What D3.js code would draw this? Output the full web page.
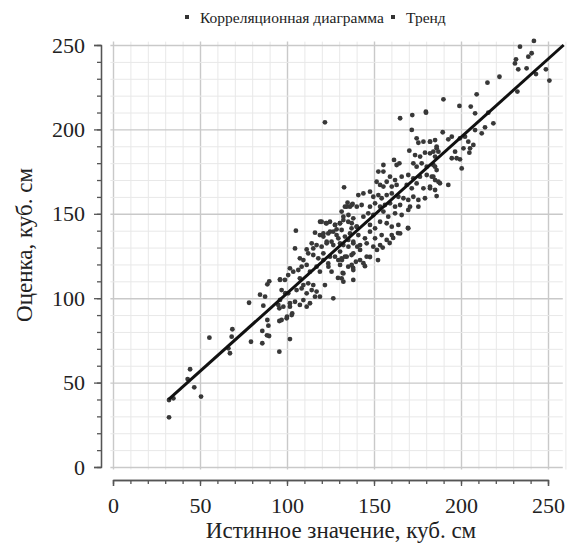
<!DOCTYPE html>
<html>
<head>
<meta charset="utf-8">
<script src="https://cdn.jsdelivr.net/npm/d3@7"></script>
<style>
  html, body { margin: 0; padding: 0; background: #fff; }
  svg { display: block; }
</style>
</head>
<body>
<div id="chart"></div>
<script>
// значения: истинное значение / оценка, куб. см
const trueValues = [
  32.2, 34.7, 32.2, 44.3, 42.9, 46.7, 50.6, 55.4, 68.6, 68.2, 67.2, 66.3, 78.2, 79.3, 84.5, 87.4,
  86.4, 88.7, 89.3, 85.8, 89.7, 85.8, 88.7, 89.8, 96.0, 95.6, 95.6, 95.6,
  101.7, 88.5, 100.0, 103.0, 101.7, 96.0, 99.0,
  132.0, 129.3, 138.0, 142.0, 131.6, 144.8, 169.5, 163.8, 159.0, 155.0, 151.7, 147.7, 152.3, 161.0,
  137.7, 136.2, 133.3, 134.8, 119.9, 122.4, 124.7, 127.6, 130.4, 132.4, 135.2, 105.1, 116.1, 118.9,
  120.9, 123.7, 126.6, 128.5, 131.4, 137.1, 140.0, 104.6, 111.3, 114.2, 115.1, 117.0, 119.9, 122.8,
  125.6, 129.5, 132.4, 135.2, 138.1, 140.4, 107.4, 109.4, 112.2, 115.1, 118.0, 120.9, 123.7, 127.6,
  129.5, 131.4, 134.3, 137.1, 139.6, 101.7, 103.6, 106.5, 108.4, 111.3, 113.2, 117.0, 118.9, 125.6,
  132.4, 135.2, 138.1, 96.0, 98.8, 100.7, 107.4, 109.4, 112.2, 115.1, 121.8, 131.4, 132.4, 138.1,
  96.9, 100.7, 105.5, 108.4, 111.3, 114.2, 117.0, 118.9, 126.6, 95.0, 97.9, 101.7, 104.6, 107.4,
  109.4, 111.3, 113.2, 116.1, 96.9, 99.8, 102.7,
  121.8, 165.0, 172.0, 179.9, 171.7, 174.5, 175.5, 178.4, 182.2, 185.1, 186.0, 170.3, 173.6, 176.5,
  179.3, 182.2, 185.1, 187.0, 161.5, 164.6, 163.0, 172.6, 174.5, 177.4, 180.3, 184.1, 155.4, 152.5,
  155.4, 159.2, 162.1, 165.9, 169.7, 172.6, 176.4, 180.3, 184.1, 187.0, 151.5, 153.5, 155.4, 157.3,
  160.2, 163.0, 132.8, 168.8, 171.7, 174.5, 178.4, 182.2, 185.1, 141.0, 143.9, 147.7, 149.6, 152.5,
  154.4, 157.3, 160.2, 164.0, 166.9, 169.7, 172.6, 175.5, 179.3, 134.3, 137.2, 140.1, 142.9, 147.7,
  150.6, 153.5, 156.3, 159.2, 162.1, 165.0, 170.7, 175.5, 131.4, 132.4, 135.3, 138.1, 143.9, 146.7,
  149.6, 155.4, 158.2, 162.1, 165.9, 169.7, 119.0, 122.8, 127.6, 130.5, 137.2, 140.1, 147.7, 150.6,
  153.5, 157.3, 160.2, 164.0, 169.7, 165.0, 120.9, 124.7, 128.5, 133.3, 136.2, 141.0, 144.8, 147.7,
  150.6, 154.4, 157.3, 160.2, 122.8, 126.6, 130.5, 135.3, 138.1, 142.0, 145.8, 149.6, 153.5, 120.9,
  124.7, 130.5, 133.3, 138.1, 142.0, 145.8, 143.9, 137.2, 130.5, 123.8,
  222.1, 215.2, 209.0, 189.9, 199.1, 205.6, 208.1, 215.7, 218.6, 213.8, 211.9, 208.1, 189.5, 192.7,
  194.7, 199.4, 202.3, 204.2, 201.4, 205.2, 207.1, 204.8, 196.6, 197.5, 194.7, 199.4, 200.4, 186.0,
  184.1, 182.2, 185.1, 186.0, 183.2, 185.1, 187.9, 182.2, 192.7, 186.0, 179.8,
  241.9, 233.9, 240.6, 238.7, 231.6, 231.0, 232.9, 237.7, 243.1, 248.8, 250.8, 232.4,
]
const estimates = [
  39.7, 40.7, 29.4, 57.9, 52.1, 47.2, 41.7, 76.6, 81.6, 77.2, 67.4, 70.3, 97.3, 74.2, 102.1, 100.9,
  95.6, 87.1, 83.7, 80.6, 77.6, 73.3, 108.2, 110.0, 110.8, 94.0, 86.5, 68.3,
  75.8, 78.0, 89.0, 91.0, 95.0, 99.0, 103.0,
  115.0, 112.0, 118.0, 122.6, 122.6, 119.0, 141.6, 138.6, 132.7, 130.0, 128.6, 124.4, 122.6, 135.7,
  155.8, 154.2, 154.2, 156.6, 145.3, 144.4, 145.3, 143.4, 144.4, 146.3, 145.3, 140.0, 138.8, 137.4,
  136.5, 138.4, 139.4, 140.8, 140.4, 141.4, 142.4, 129.5, 128.9, 132.5, 129.5, 131.5, 130.5, 132.5,
  133.5, 135.5, 131.5, 134.5, 132.5, 130.5, 123.6, 122.6, 126.6, 125.6, 123.6, 122.6, 120.6, 124.6,
  122.6, 123.6, 124.6, 125.6, 121.6, 117.7, 115.7, 116.7, 118.7, 119.7, 115.7, 118.7, 115.7, 115.7,
  114.7, 118.7, 116.7, 111.2, 110.8, 113.7, 111.8, 107.8, 108.8, 107.8, 107.8, 111.8, 109.8, 110.8,
  104.8, 102.9, 104.8, 105.8, 102.9, 104.8, 103.9, 100.9, 99.9, 96.0, 95.0, 97.0, 97.9, 96.0,
  98.9, 95.0, 97.0, 100.9, 87.1, 88.1, 90.0,
  204.2, 206.6, 208.5, 209.9, 199.7, 194.7, 192.1, 192.7, 192.7, 193.7, 189.8, 187.4, 184.8, 183.9,
  186.2, 185.8, 183.9, 186.8, 181.9, 179.9, 178.9, 179.9, 177.9, 179.9, 177.9, 178.9, 178.9, 175.0,
  175.0, 172.0, 170.0, 172.0, 173.0, 171.0, 172.0, 173.0, 172.0, 169.0, 169.0, 167.1, 166.1, 169.0,
  166.1, 167.1, 165.7, 167.1, 165.1, 168.0, 165.1, 166.1, 164.1, 161.1, 162.1, 163.1, 160.1, 161.1,
  159.2, 161.1, 162.1, 160.1, 159.2, 158.2, 160.1, 158.2, 159.2, 154.2, 155.2, 154.2, 155.2, 154.2,
  156.2, 154.2, 155.2, 156.2, 154.2, 155.2, 154.2, 154.2, 151.3, 148.3, 149.3, 147.3, 148.3, 150.3,
  149.3, 151.3, 148.3, 150.3, 149.3, 152.3, 145.3, 144.4, 143.4, 144.4, 144.4, 142.4, 143.4, 141.4,
  145.3, 144.4, 142.4, 143.4, 141.4, 138.4, 138.4, 139.4, 137.4, 136.5, 138.4, 137.4, 135.5, 139.4,
  135.5, 137.4, 134.5, 137.4, 133.5, 131.5, 132.5, 130.5, 133.5, 131.5, 132.5, 130.5, 131.5, 126.6,
  124.6, 127.6, 124.6, 126.6, 128.6, 124.6, 120.7, 119.7, 119.7, 118.7,
  231.2, 227.7, 220.8, 217.8, 213.9, 213.5, 209.5, 209.9, 203.6, 201.2, 197.7, 199.6, 198.3, 194.1,
  195.7, 194.7, 195.7, 192.7, 188.8, 188.8, 190.8, 186.2, 186.8, 182.9, 182.9, 182.3, 176.9, 188.8,
  186.8, 192.7, 177.9, 175.9, 172.0, 170.0, 168.1, 165.1, 167.1, 160.5, 210.5,
  252.4, 249.0, 245.1, 243.1, 241.5, 239.1, 235.6, 236.2, 232.8, 235.6, 228.9, 222.4,
]
const trendTrue = [32, 259]
const trendEstimate = [40, 250]
const tickLabels = [0, 50, 100, 150, 200, 250]
const legendLabels = ['Корреляционная диаграмма', 'Тренд']
const xTitle = 'Истинное значение, куб. см'
const yTitle = 'Оценка, куб. см'

const width = 576
const height = 549
const axisColor = '#555'
const serif = 'Liberation Serif'

const x = d3.scaleLinear().domain([0, 250]).range([113, 548])
const y = d3.scaleLinear().domain([0, 250]).range([467, 45])

const svg = d3
  .select('#chart')
  .append('svg')
  .attr('width', width)
  .attr('height', height)
  .attr('font-family', serif)

// сетка
const grid = svg.append('g')
const gridX = [x(-1.5), x(258.5)]
const gridY = [y(-1.5), y(252)]
const minorValues = d3.range(0, 261, 10)
grid
  .selectAll('line.vx')
  .data(minorValues)
  .enter()
  .append('line')
  .attr('x1', (d) => x(d) + 0.5)
  .attr('x2', (d) => x(d) + 0.5)
  .attr('y1', gridY[0])
  .attr('y2', gridY[1])
  .attr('stroke', (d) => (d % 50 === 0 ? '#c9c9c9' : '#e8e8e8'))
  .attr('stroke-width', (d) => (d % 50 === 0 ? 1.4 : 1))
grid
  .selectAll('line.hy')
  .data(minorValues.filter((d) => d <= 250))
  .enter()
  .append('line')
  .attr('y1', (d) => y(d) + 0.5)
  .attr('y2', (d) => y(d) + 0.5)
  .attr('x1', gridX[0])
  .attr('x2', gridX[1])
  .attr('stroke', (d) => (d % 50 === 0 ? '#c9c9c9' : '#e8e8e8'))
  .attr('stroke-width', (d) => (d % 50 === 0 ? 1.4 : 1))

// оси
const styleAxis = (g) => {
  g.attr('font-family', serif).attr('font-size', 22)
  g.selectAll('path, line').attr('stroke', axisColor).attr('stroke-width', 1.3)
  g.selectAll('text').attr('font-family', serif).attr('fill', '#222')
}

svg
  .append('g')
  .attr('transform', 'translate(101,0)')
  .call(d3.axisLeft(y).tickValues(d3.range(0, 251, 10)).tickSize(4).tickSizeOuter(0).tickFormat(''))
  .call(styleAxis)
svg
  .append('g')
  .attr('transform', 'translate(101,0)')
  .call(d3.axisLeft(y).tickValues(tickLabels).tickSize(7).tickSizeOuter(7).tickPadding(9))
  .call(styleAxis)

svg
  .append('g')
  .attr('transform', 'translate(0,480)')
  .call(d3.axisBottom(x).tickValues(d3.range(0, 251, 10)).tickSize(4).tickSizeOuter(0).tickFormat(''))
  .call(styleAxis)
svg
  .append('g')
  .attr('transform', 'translate(0,480)')
  .call(d3.axisBottom(x).tickValues(tickLabels).tickSize(6).tickSizeOuter(6).tickPadding(11))
  .call(styleAxis)

// точки
const points = trueValues.map((v, i) => [v, estimates[i]])
svg
  .append('g')
  .selectAll('circle')
  .data(points)
  .enter()
  .append('circle')
  .attr('cx', (d) => x(d[0]))
  .attr('cy', (d) => y(d[1]))
  .attr('r', 2.4)
  .attr('fill', '#383838')

// тренд
const line = d3
  .line()
  .x((d) => x(d[0]))
  .y((d) => y(d[1]))
svg
  .append('path')
  .datum(trendTrue.map((v, i) => [v, trendEstimate[i]]))
  .attr('fill', 'none')
  .attr('stroke', '#111')
  .attr('stroke-width', 3)
  .attr('d', line)

// подписи осей
svg
  .append('text')
  .attr('x', 341)
  .attr('y', 538)
  .attr('text-anchor', 'middle')
  .attr('font-family', serif)
  .attr('font-size', 23)
  .attr('fill', '#222')
  .text(xTitle)
svg
  .append('text')
  .attr('transform', 'translate(32,245) rotate(-90)')
  .attr('text-anchor', 'middle')
  .attr('font-family', serif)
  .attr('font-size', 23)
  .attr('fill', '#222')
  .text(yTitle)

// легенда
const legendX = [187, 393]
const legend = svg.append('g')
legendLabels.forEach((label, i) => {
  legend
    .append('rect')
    .attr('x', legendX[i] - 2)
    .attr('y', 15)
    .attr('width', 4)
    .attr('height', 4)
    .attr('fill', '#333')
  legend
    .append('text')
    .attr('x', legendX[i] + 13)
    .attr('y', 23)
    .attr('font-family', serif)
    .attr('font-size', 15.5)
    .attr('fill', '#222')
    .text(label)
})
</script>
</body>
</html>
